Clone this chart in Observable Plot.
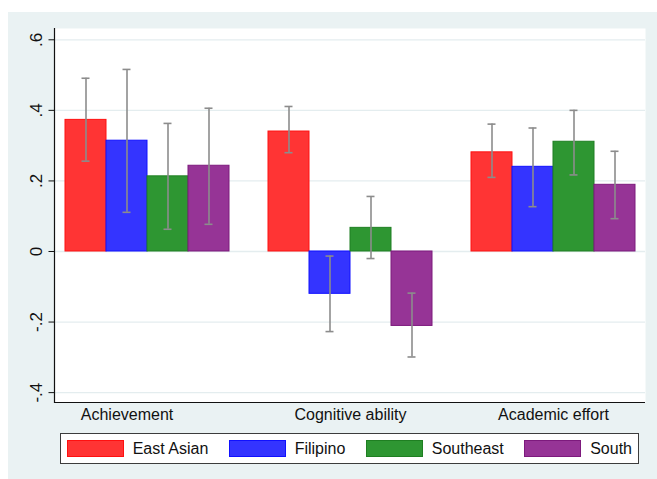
<!DOCTYPE html>
<html><head><meta charset="utf-8">
<script src="https://cdn.jsdelivr.net/npm/d3@7"></script>
<script src="https://cdn.jsdelivr.net/npm/@observablehq/plot@0.6"></script>
<style>
html,body{margin:0;padding:0;background:#fff;}
#bg{position:absolute;left:8px;top:12px;width:649px;height:467px;background:#eaf2f3;font-family:"Liberation Sans",Arial,Helvetica,sans-serif;}
#back,#front{position:absolute;left:0;top:0;}
#legend{position:absolute;left:52px;top:421px;width:579px;height:31px;box-sizing:border-box;border:1px solid #3c3c3c;background:#fff;display:flex;align-items:center;justify-content:space-between;padding:0 6px 0 5.7px;font-size:16px;color:#111;}
.item{display:flex;align-items:center;}
.sw{width:57px;height:17px;box-sizing:border-box;border:1px solid;flex:none;}
.lab{margin-left:9px;line-height:1;white-space:nowrap;}
</style></head><body>
<div id="bg"><div id="back"></div><div id="front"></div><div id="legend"></div></div>
<script>
// Data
const categories = ["Achievement", "Cognitive ability", "Academic effort"];
const groups = ["East Asian", "Filipino", "Southeast", "South"];

const eastAsianMean = [0.373, 0.340, 0.281];
const eastAsianLow  = [0.256, 0.280, 0.210];
const eastAsianHigh = [0.491, 0.411, 0.361];

const filipinoMean = [0.314, -0.120, 0.240];
const filipinoLow  = [0.111, -0.227, 0.127];
const filipinoHigh = [0.516, -0.013, 0.350];

const southeastMean = [0.213, 0.067, 0.311];
const southeastLow  = [0.063, -0.020, 0.217];
const southeastHigh = [0.363, 0.156, 0.400];

const southMean = [0.243, -0.211, 0.189];
const southLow  = [0.077, -0.299, 0.093];
const southHigh = [0.406, -0.118, 0.284];

const yTicks = [-0.4, -0.2, 0, 0.2, 0.4, 0.6];
const yTickLabels = ["-.4", "-.2", "0", ".2", ".4", ".6"];

// Styles
const fills = ["#ff3434", "#3434ff", "#2e9632", "#963496"];
const strokes = ["#ff1010", "#1010ff", "#1f7f22", "#7d1a7d"];
const fontFamily = '"Liberation Sans", Arial, Helvetica, sans-serif';
const errColor = "#8c8c8c";
const gridColor = "#e4edef";
const axisColor = "#111";

const means = [eastAsianMean, filipinoMean, southeastMean, southMean];
const lows = [eastAsianLow, filipinoLow, southeastLow, southLow];
const highs = [eastAsianHigh, filipinoHigh, southeastHigh, southHigh];

const rows = [];
groups.forEach((g, gi) => categories.forEach((c, ci) => rows.push({
  category: c, group: g, mean: means[gi][ci], lo: lows[gi][ci], hi: highs[gi][ci]
})));
const strokeOf = Object.fromEntries(groups.map((g, i) => [g, strokes[i]]));
const tickLabelOf = new Map(yTicks.map((t, i) => [t, yTickLabels[i]]));
const yDomain = [-0.428, 0.632];

const base = {
  width: 649, height: 420,
  marginLeft: 46, marginRight: 12, marginTop: 16, marginBottom: 30,
  style: {background: "transparent", fontFamily, overflow: "visible", color: axisColor}
};
const bandPad = {paddingInner: 0.194, paddingOuter: 0.049};

// Background layer: plot region, grid, axes, labels
const back = Plot.plot({
  ...base,
  x: {type: "band", domain: categories, ...bandPad, axis: null, label: null},
  y: {domain: yDomain, axis: null, label: null},
  marks: [
    Plot.frame({fill: "white"}),
    Plot.ruleY(yTicks, {stroke: gridColor, strokeWidth: 1.3}),
    Plot.ruleY([yDomain[0]], {stroke: axisColor, strokeWidth: 1.2}),
    Plot.frame({anchor: "left", stroke: axisColor, strokeWidth: 1.2}),
    Plot.axisY({ticks: yTicks, tickSize: 5.5, fill: "none", stroke: axisColor, label: null}),
    Plot.text(yTicks, {y: d => d, text: d => tickLabelOf.get(d), frameAnchor: "left", rotate: -90,
      textAnchor: "middle", lineAnchor: "middle", dx: -18.4, fontSize: 17, fill: axisColor}),
    Plot.text(categories.slice(0, 1), {x: d => d, text: d => d, frameAnchor: "bottom",
      lineAnchor: "top", dy: 6, dx: -20.5, fontSize: 16, fill: axisColor}),
    Plot.text(categories.slice(1), {x: d => d, text: d => d, frameAnchor: "bottom",
      lineAnchor: "top", dy: 6, dx: 0, fontSize: 16, fill: axisColor})
  ]
});
document.getElementById("back").appendChild(back);

// Foreground layer: grouped bars with confidence intervals
const front = Plot.plot({
  ...base,
  fx: {domain: categories, ...bandPad, axis: null, label: null},
  x: {domain: groups, padding: 0, axis: null, label: null},
  y: {domain: yDomain, axis: null, label: null},
  color: {domain: groups, range: fills},
  marks: [
    Plot.barY(rows, {fx: "category", x: "group", y: "mean", fill: "group",
      stroke: {value: d => strokeOf[d.group], scale: null}, strokeWidth: 1}),
    Plot.ruleX(rows, {fx: "category", x: "group", y1: "lo", y2: "hi", stroke: errColor, strokeWidth: 1.6}),
    Plot.tickY(rows, {fx: "category", x: "group", y: "lo", stroke: errColor, strokeWidth: 1.6, insetLeft: 16.5, insetRight: 16.5}),
    Plot.tickY(rows, {fx: "category", x: "group", y: "hi", stroke: errColor, strokeWidth: 1.6, insetLeft: 16.5, insetRight: 16.5})
  ]
});
document.getElementById("front").appendChild(front);

const legend = document.getElementById("legend");
groups.forEach((g, i) => {
  const item = document.createElement("div");
  item.className = "item";
  const sw = document.createElement("div");
  sw.className = "sw";
  sw.style.background = fills[i];
  sw.style.borderColor = strokes[i];
  const lab = document.createElement("span");
  lab.className = "lab";
  lab.textContent = g;
  item.appendChild(sw);
  item.appendChild(lab);
  legend.appendChild(item);
});
</script>
</body></html>
